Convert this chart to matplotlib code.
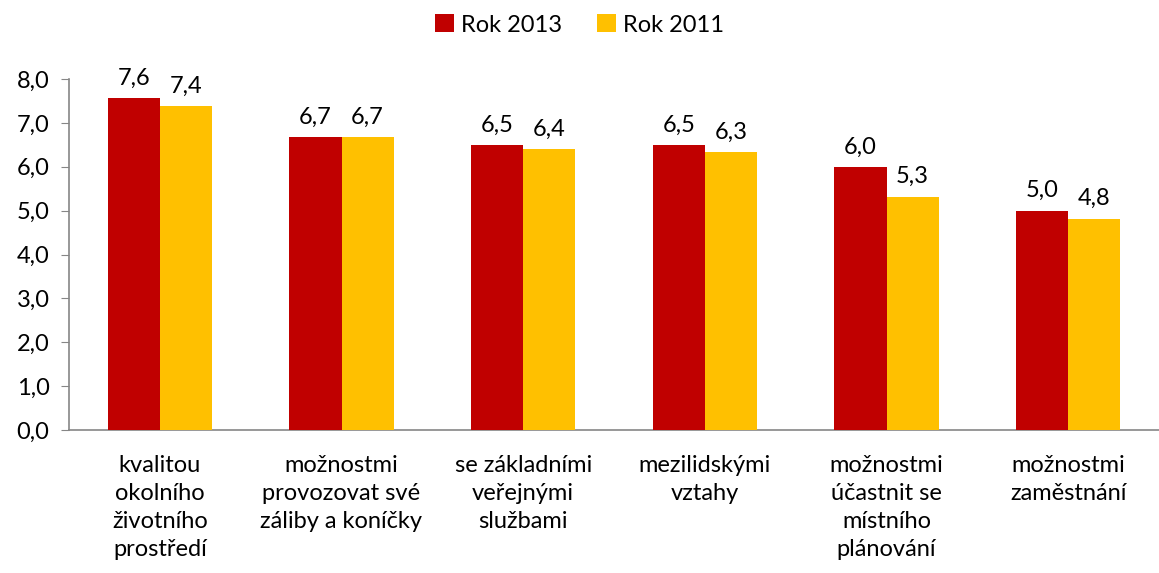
import numpy as np
import matplotlib
matplotlib.use("Agg")
import matplotlib.pyplot as plt

plt.rcParams['font.family'] = ['Lato', 'DejaVu Sans']

categories = [
    "kvalitou\nokolního\nživotního\nprostředí",
    "možnostmi\nprovozovat své\nzáliby a koníčky",
    "se základními\nveřejnými\nslužbami",
    "mezilidskými\nvztahy",
    "možnostmi\núčastnit se\nmístního\nplánování",
    "možnostmi\nzaměstnání",
]
rok_2013 = [7.56, 6.67, 6.49, 6.49, 5.99, 4.99]
rok_2011 = [7.38, 6.67, 6.40, 6.33, 5.31, 4.81]
y_ticks = [0, 1, 2, 3, 4, 5, 6, 7, 8]

red = "#C00000"
yellow = "#FFC000"
axis_gray = "#868686"
fs = 17

fig = plt.figure(figsize=(11.59, 5.73), dpi=100)
ax = fig.add_axes([69 / 1159, 1 - 430 / 573, 1 - 69 / 1159, (430 - 79) / 573])

x = np.arange(len(categories))
w = 0.287
b1 = ax.bar(x - w / 2, rok_2013, w, color=red, label="Rok 2013", zorder=3)
b2 = ax.bar(x + w / 2, rok_2011, w, color=yellow, label="Rok 2011", zorder=3)

for bars, vals in ((b1, rok_2013), (b2, rok_2011)):
    for bar, v in zip(bars, vals):
        ax.annotate(f"{v:.1f}".replace(".", ","),
                    (bar.get_x() + bar.get_width() / 2, bar.get_height()),
                    xytext=(0, 7), textcoords="offset points",
                    ha="center", va="bottom", fontsize=fs, color="black")

ax.set_xlim(-0.5, len(categories) - 0.5)
ax.set_ylim(0, 8)
ax.set_yticks(y_ticks)
ax.set_yticklabels([f"{t:.1f}".replace(".", ",") for t in y_ticks], fontsize=fs)
ax.set_xticks(x)
ax.set_xticklabels(categories, fontsize=fs, linespacing=1.42, va="top")
ax.tick_params(axis="x", length=0, pad=18)
ax.tick_params(axis="y", length=6, color=axis_gray, direction="out", pad=8)

for s in ("top", "right"):
    ax.spines[s].set_visible(False)
ax.spines["left"].set_color(axis_gray)
ax.spines["bottom"].set_color(axis_gray)
ax.spines["left"].set_linewidth(1.2)
ax.spines["bottom"].set_linewidth(1.2)

fig.legend(handles=[b1, b2], loc="center", bbox_to_anchor=(0.5, 1 - 25 / 573),
           ncol=2, frameon=False, fontsize=fs, handlelength=0.8, handleheight=0.8,
           handletextpad=0.3, columnspacing=1.5)

fig.savefig("out.png", dpi=100)
